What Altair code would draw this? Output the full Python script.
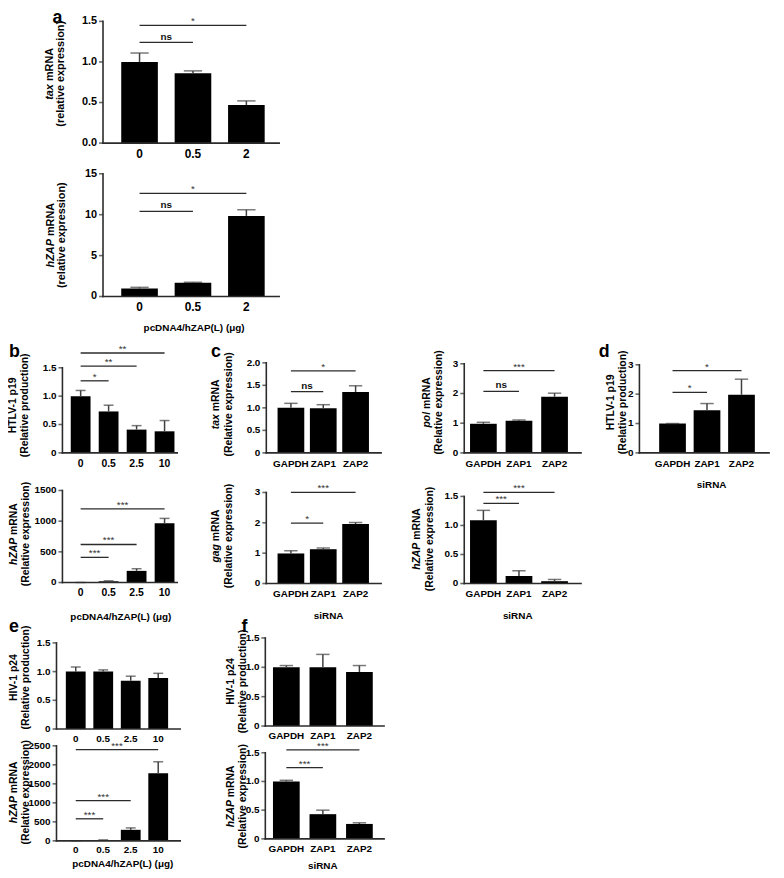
import altair as alt
import pandas as pd

FONT = "Liberation Sans"
BAR = "#000000"
ERR = "#404040"
AX = "#2b2b2b"
M = 8  # page margin: page coordinates -> chart coordinates

# ---------------- data ----------------
dose_a = ["0", "0.5", "2"]
dose_be = ["0", "0.5", "2.5", "10"]
sirna = ["GAPDH", "ZAP1", "ZAP2"]

# panel a
a_tax_val = [1.00, 0.86, 0.47]
a_tax_err = [0.11, 0.03, 0.05]
a_tax_sig_from = [0, 0]
a_tax_sig_to = [2, 1]
a_tax_sig_y = [1.45, 1.24]
a_tax_sig_txt = ["*", "ns"]

a_zap_val = [0.97, 1.68, 9.85]
a_zap_err = [0.15, 0.06, 0.75]
a_zap_sig_from = [0, 0]
a_zap_sig_to = [2, 1]
a_zap_sig_y = [12.6, 10.4]
a_zap_sig_txt = ["*", "ns"]

# panel b
b_p19_val = [1.00, 0.73, 0.41, 0.38]
b_p19_err = [0.10, 0.11, 0.07, 0.19]
b_p19_sig_from = [0, 0, 0]
b_p19_sig_to = [1, 2, 3]
b_p19_sig_y = [1.27, 1.53, 1.76]
b_p19_sig_txt = ["*", "**", "**"]

b_zap_val = [1, 20, 190, 965]
b_zap_err = [0, 8, 35, 80]
b_zap_sig_from = [0, 0, 0]
b_zap_sig_to = [1, 2, 3]
b_zap_sig_y = [410, 620, 1200]
b_zap_sig_txt = ["***", "***", "***"]

# panel c
c_tax_val = [1.00, 0.99, 1.35]
c_tax_err = [0.10, 0.08, 0.14]
c_tax_sig_from = [0, 0]
c_tax_sig_to = [2, 1]
c_tax_sig_y = [1.82, 1.36]
c_tax_sig_txt = ["*", "ns"]

c_pol_val = [0.98, 1.08, 1.89]
c_pol_err = [0.05, 0.03, 0.12]
c_pol_sig_from = [0, 0]
c_pol_sig_to = [2, 1]
c_pol_sig_y = [2.77, 2.07]
c_pol_sig_txt = ["***", "ns"]

c_gag_val = [0.99, 1.13, 1.96]
c_gag_err = [0.09, 0.04, 0.05]
c_gag_sig_from = [0, 0]
c_gag_sig_to = [2, 1]
c_gag_sig_y = [3.0, 1.99]
c_gag_sig_txt = ["***", "*"]

c_zap_val = [1.09, 0.13, 0.04]
c_zap_err = [0.17, 0.09, 0.03]
c_zap_sig_from = [0, 0]
c_zap_sig_to = [2, 1]
c_zap_sig_y = [1.57, 1.38]
c_zap_sig_txt = ["***", "***"]

# panel d
d_p19_val = [1.00, 1.45, 1.98]
d_p19_err = [0.0, 0.23, 0.53]
d_p19_sig_from = [0, 0]
d_p19_sig_to = [2, 1]
d_p19_sig_y = [2.80, 2.06]
d_p19_sig_txt = ["*", "*"]

# panel e
e_p24_val = [1.00, 1.00, 0.84, 0.89]
e_p24_err = [0.08, 0.03, 0.08, 0.08]

e_zap_val = [2, 15, 290, 1780]
e_zap_err = [0, 10, 50, 300]
e_zap_sig_from = [0, 0, 0]
e_zap_sig_to = [1, 2, 3]
e_zap_sig_y = [580, 1060, 2400]
e_zap_sig_txt = ["***", "***", "***"]

# panel f
f_p24_val = [1.00, 1.00, 0.92]
f_p24_err = [0.03, 0.22, 0.11]

f_zap_val = [1.00, 0.43, 0.26]
f_zap_err = [0.02, 0.07, 0.02]
f_zap_sig_from = [0, 0]
f_zap_sig_to = [2, 1]
f_zap_sig_y = [1.55, 1.24]
f_zap_sig_txt = ["***", "***"]

# ---------------- helpers ----------------
AW = {" ": 278, "(": 333, ")": 333, "-": 333, ".": 278, "/": 278,
      "A": 722, "D": 722, "E": 667, "G": 778, "H": 722, "I": 278, "L": 611,
      "N": 722, "P": 667, "R": 722, "T": 611, "V": 667, "Z": 611,
      "a": 556, "c": 556, "d": 611, "e": 556, "g": 611, "h": 611, "i": 278,
      "l": 278, "m": 889, "n": 611, "o": 611, "p": 611, "r": 389, "s": 556,
      "t": 333, "u": 611, "v": 556, "x": 556}


def tw(s, size):
    return sum(AW.get(ch, 556) for ch in s) * size / 1000.0


dummy = pd.DataFrame({"k": [0]})


def txt(s, x, y, size=10, angle=0, align="center", baseline="middle",
        italic=False, bold=True, color="black"):
    """Text placed at page coordinates (x, y)."""
    kw = dict(text=s, font=FONT, fontSize=size, align=align, baseline=baseline,
              color=color, fontWeight="bold" if bold else "normal")
    if angle:
        kw["angle"] = angle
    if italic:
        kw["fontStyle"] = "italic"
    return alt.Chart(dummy).mark_text(**kw).encode(x=alt.value(x - M), y=alt.value(y - M))


def tick_label(v, fmt):
    if fmt == "f1":
        return "%.1f" % v
    if fmt == "d1":
        return "0" if v == 0 else "%.1f" % v
    return "%d" % v


def panel(cats, vals, errs, sig, geo, ymax, yticks, yfmt, xdom, bw,
          ytitle, ypos, xtitle=None, letter=None, xlab=10, ylab=10, tsize=10.5, xdy=6):
    x0, y0, w, h = geo
    n = len(cats)
    xs = alt.Scale(domain=xdom, range=[x0 - M, x0 - M + w], nice=False, zero=False)
    ys = alt.Scale(domain=[0, ymax], range=[y0 - M + h, y0 - M], nice=False, zero=False)

    def X(f):
        return alt.X(f, type="quantitative", scale=xs, axis=None)

    def Y(f):
        return alt.Y(f, type="quantitative", scale=ys, axis=None)

    def XD(v):
        return alt.XDatum(v, type="quantitative", scale=xs, axis=None)

    def YD(v):
        return alt.YDatum(v, type="quantitative", scale=ys, axis=None)

    df = pd.DataFrame({"i": list(range(n)), "c": cats, "v": vals, "e": errs})
    df["top"] = df["v"] + df["e"]
    tk = pd.DataFrame({"t": yticks, "lab": [tick_label(v, yfmt) for v in yticks]})
    base = alt.Chart(df)
    layers = [
        base.mark_bar(size=bw, color=BAR, orient="vertical").encode(x=X("i"), y=Y("v")),
        base.mark_rule(color=ERR, strokeWidth=1.5).encode(x=X("i"), y=Y("v"), y2="top"),
        base.mark_tick(orient="horizontal", size=bw * 0.5, thickness=1.5, color=ERR)
            .encode(x=X("i"), y=Y("top")),
        # axes
        alt.Chart(dummy).mark_rule(color=AX, strokeWidth=1.6, strokeCap="square")
            .encode(x=XD(xdom[0]), y=YD(0), y2=alt.Y2Datum(ymax)),
        alt.Chart(dummy).mark_rule(color=AX, strokeWidth=1.6, strokeCap="square")
            .encode(y=YD(0), x=XD(xdom[0]), x2=alt.X2Datum(xdom[1])),
        alt.Chart(tk).mark_tick(orient="horizontal", size=4, thickness=1.6, xOffset=-2, color=AX)
            .encode(x=XD(xdom[0]), y=Y("t")),
        alt.Chart(tk).mark_text(align="right", baseline="middle", dx=-6, font=FONT,
                                fontWeight="bold", fontSize=ylab, color="black")
            .encode(x=XD(xdom[0]), y=Y("t"), text="lab:N"),
        base.mark_text(align="center", baseline="top", dy=xdy, font=FONT,
                       fontWeight="bold", fontSize=xlab, color="black")
            .encode(x=X("i"), y=YD(0), text="c:N"),
    ]
    if sig is not None:
        sfrom, sto, sy, stxt = sig
        sd = pd.DataFrame({"x1": sfrom, "x2": sto, "y": sy, "t": stxt})
        sd["xm"] = (sd["x1"] + sd["x2"]) / 2.0
        sb = alt.Chart(sd)
        layers.append(sb.mark_rule(color=AX, strokeWidth=1.3)
                      .encode(x=X("x1"), x2="x2", y=Y("y")))
        layers.append(sb.transform_filter("datum.t != 'ns'")
                      .mark_text(font=FONT, fontSize=10, baseline="alphabetic", dy=-1, color="#333")
                      .encode(x=X("xm"), y=Y("y"), text="t:N"))
        layers.append(sb.transform_filter("datum.t == 'ns'")
                      .mark_text(font=FONT, fontSize=10, fontWeight="bold", baseline="alphabetic",
                                 dy=-3, color="#111")
                      .encode(x=X("xm"), y=Y("y"), text="t:N"))
    # y title (two lines, rotated)
    it, rest, line2 = ytitle
    x1, x2, yc = ypos
    if it:
        w_it = tw(it, tsize)
        sp = tw(" ", tsize)
        w_r = tw(rest, tsize)
        L = w_it + sp + w_r
        J = yc + L / 2 - w_it
        layers.append(txt(it, x1, J, size=tsize, angle=270, align="right", italic=True))
        layers.append(txt(rest, x1, J - sp, size=tsize, angle=270, align="left"))
    else:
        layers.append(txt(rest, x1, yc, size=tsize, angle=270))
    layers.append(txt(line2, x2, yc, size=tsize, angle=270))
    if xtitle:
        s, xx, yy = xtitle
        layers.append(txt(s, xx, yy, size=10))
    if letter:
        s, xx, yy = letter
        layers.append(txt(s, xx, yy, size=18, align="left", baseline="alphabetic"))
    return alt.layer(*layers)


XT_DOSE = "pcDNA4/hZAP(L) (\u03bcg)"
REL_E = "(Relative expression)"
REL_P = "(Relative production)"

# ---------------- panels (geometry = plot-area x, y, width, height in page px) ----------------
pa1 = panel(dose_a, a_tax_val, a_tax_err,
            (a_tax_sig_from, a_tax_sig_to, a_tax_sig_y, a_tax_sig_txt),
            (99, 17, 188, 123), 1.5, [0, 0.5, 1, 1.5], "f1", [-0.684, 2.614], 37,
            ("tax", "mRNA", "(relative expression)"), (50, 62, 70),
            letter=("a", 53, 19), xlab=12, ylab=11, tsize=11)
pa2 = panel(dose_a, a_zap_val, a_zap_err,
            (a_zap_sig_from, a_zap_sig_to, a_zap_sig_y, a_zap_sig_txt),
            (99, 171, 188, 124), 15, [0, 5, 10, 15], "d", [-0.684, 2.614], 37,
            ("hZAP", "mRNA", "(relative expression)"), (51, 63, 233),
            xtitle=(XT_DOSE, 196, 327), xlab=12, ylab=11, tsize=11)

pb1 = panel(dose_be, b_p19_val, b_p19_err,
            (b_p19_sig_from, b_p19_sig_to, b_p19_sig_y, b_p19_sig_txt),
            (58, 367, 126, 86), 1.5, [0, 0.5, 1, 1.5], "d1", [-0.651, 3.453], 20,
            (None, "HTLV-1 p19", REL_P), (13, 25, 405), letter=("b", 9, 356), xlab=10.5)
pb2 = panel(dose_be, b_zap_val, b_zap_err,
            (b_zap_sig_from, b_zap_sig_to, b_zap_sig_y, b_zap_sig_txt),
            (58, 491, 126, 93), 1500, [0, 500, 1000, 1500], "d", [-0.651, 3.453], 20,
            ("hZAP", "mRNA", REL_E), (14, 26, 535), xtitle=(XT_DOSE, 122, 619), xlab=10.5)

pc1 = panel(sirna, c_tax_val, c_tax_err,
            (c_tax_sig_from, c_tax_sig_to, c_tax_sig_y, c_tax_sig_txt),
            (264, 362, 126, 91), 2, [0, 0.5, 1, 1.5, 2], "d1", [-0.761, 2.789], 27,
            ("tax", "mRNA", REL_E), (218, 231, 404), letter=("c", 213, 356))
pc3 = panel(sirna, c_gag_val, c_gag_err,
            (c_gag_sig_from, c_gag_sig_to, c_gag_sig_y, c_gag_sig_txt),
            (264, 493, 126, 92), 3, [0, 1, 2, 3], "d", [-0.761, 2.789], 27,
            ("gag", "mRNA", REL_E), (218, 231, 537), xtitle=("siRNA", 332, 618))
pc2 = panel(sirna, c_pol_val, c_pol_err,
            (c_pol_sig_from, c_pol_sig_to, c_pol_sig_y, c_pol_sig_txt),
            (464, 363, 128, 90), 3, [0, 1, 2, 3], "d", [-0.538, 2.744], 27,
            ("pol", "mRNA", REL_E), (431, 444, 402))
pc4 = panel(sirna, c_zap_val, c_zap_err,
            (c_zap_sig_from, c_zap_sig_to, c_zap_sig_y, c_zap_sig_txt),
            (464, 497, 128, 88), 1.5, [0, 0.5, 1, 1.5], "d1", [-0.538, 2.744], 27,
            ("hZAP", "mRNA", REL_E), (421, 434, 540), xtitle=("siRNA", 523, 618))
pd1 = panel(sirna, d_p19_val, d_p19_err,
            (d_p19_sig_from, d_p19_sig_to, d_p19_sig_y, d_p19_sig_txt),
            (641, 364, 141, 89), 3, [0, 1, 2, 3], "d", [-0.96, 2.8], 27,
            (None, "HTLV-1 p19", REL_P), (617, 629, 402),
            xtitle=("siRNA", 719, 485), letter=("d", 605, 356))

pe1 = panel(dose_be, e_p24_val, e_p24_err, None,
            (52, 645, 135, 87), 1.5, [0, 0.5, 1, 1.5], "d1", [-0.7, 3.8], 20,
            (None, "HIV-1 p24", REL_P), (14, 26, 680), letter=("e", 9, 634), xdy=5)
pe2 = panel(dose_be, e_zap_val, e_zap_err,
            (e_zap_sig_from, e_zap_sig_to, e_zap_sig_y, e_zap_sig_txt),
            (52, 749, 135, 96), 2500, [0, 500, 1000, 1500, 2000, 2500], "d", [-0.7, 3.8], 20,
            ("hZAP", "mRNA", REL_E), (14, 26, 796), xtitle=(XT_DOSE, 124, 868), xdy=4)
pf1 = panel(sirna, f_p24_val, f_p24_err, None,
            (263, 640, 130, 89), 1.5, [0, 0.5, 1, 1.5], "d1", [-0.575, 2.675], 27,
            (None, "HIV-1 p24", REL_P), (233, 245, 684), letter=("f", 244, 634), xdy=5)
pf2 = panel(sirna, f_zap_val, f_zap_err,
            (f_zap_sig_from, f_zap_sig_to, f_zap_sig_y, f_zap_sig_txt),
            (263, 756, 130, 87), 1.5, [0, 0.5, 1, 1.5], "d1", [-0.575, 2.675], 27,
            ("hZAP", "mRNA", REL_E), (233, 245, 800), xtitle=("siRNA", 326, 870), xdy=5)

chart = (alt.layer(pa1, pa2, pb1, pb2, pc1, pc3, pc2, pc4, pd1, pe1, pe2, pf1, pf2)
         .resolve_scale(x="independent", y="independent")
         .properties(width=776, height=866, padding=0, background="white",
                     autosize=alt.AutoSizeParams(type="none"))
         .configure_view(stroke=None))

chart.save("out.html", embed_options={"renderer": "svg", "actions": False})
